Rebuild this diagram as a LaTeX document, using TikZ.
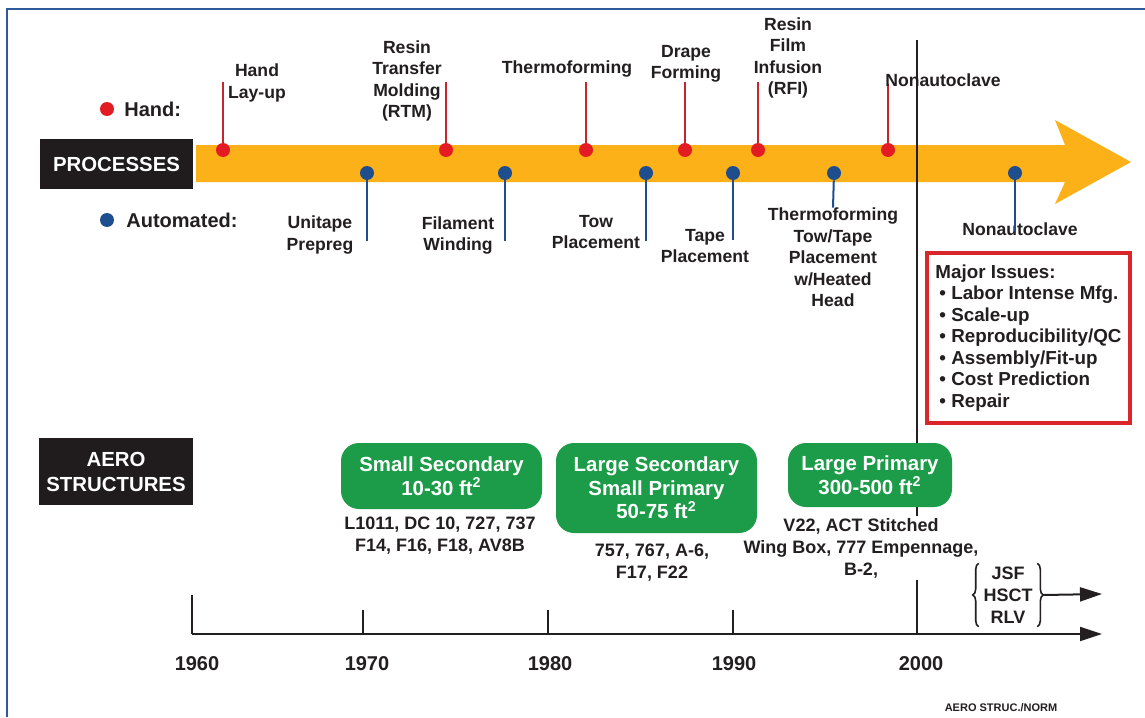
\documentclass[tikz,border=0pt]{standalone}
\usepackage{fontspec}
\setmainfont{Liberation Sans}
\usetikzlibrary{arrows.meta,decorations.pathreplacing}
\definecolor{frameblue}{HTML}{2E5A9A}
\definecolor{barorange}{HTML}{FBB117}
\definecolor{handred}{HTML}{E31B23}
\definecolor{stemred}{HTML}{C8252B}
\definecolor{autoblue}{HTML}{1F4E8F}
\definecolor{boxgreen}{HTML}{1C9C48}
\definecolor{ink}{HTML}{231F20}
\definecolor{issuered}{HTML}{D9262B}
\begin{document}
\begin{tikzpicture}[x=0.5pt,y=-0.5pt,
  lbl/.style={font=\fontsize{8.8}{10.75}\selectfont\bfseries, text=ink, align=center, inner sep=0pt},
  legendtxt/.style={font=\fontsize{10}{12}\selectfont\bfseries, text=ink, inner sep=0pt, anchor=west},
  hdot/.style={circle, fill=handred, minimum size=7pt, inner sep=0pt},
  adot/.style={circle, fill=autoblue, minimum size=7pt, inner sep=0pt},
  hstem/.style={draw=stemred, line width=1pt},
  astem/.style={draw=autoblue, line width=1pt},
  blackbox/.style={fill=ink!90!black, text=white, font=\fontsize{10.2}{12.5}\selectfont\bfseries, align=center, inner sep=0pt},
  greenbox/.style={fill=boxgreen, rounded corners=9pt, text=white, font=\fontsize{10.2}{11.75}\selectfont\bfseries, align=center, inner sep=0pt},
  note/.style={font=\fontsize{9}{11}\selectfont\bfseries, text=ink, align=center, inner sep=0pt},
  year/.style={font=\fontsize{10}{12}\selectfont\bfseries, text=ink, inner sep=0pt},
  axisline/.style={line width=1pt, draw=ink},
  bigtip/.style={-{Triangle[length=11pt,width=7pt]}},
]
\useasboundingbox (0,0) rectangle (1145,717);
\fill[white] (0,0) rectangle (1145,717);
% frame
\draw[frameblue, line width=1.3pt] (7,717) -- (7,9) -- (1145,9);

% orange process arrow
\fill[barorange] (196,145) -- (1065,145) -- (1055,120) -- (1131,162) -- (1055,204) -- (1065,182) -- (196,182) -- cycle;

% 2000 line
\coordinate (l2000top) at (917,40);
\coordinate (l2000) at (917,634);
\draw[axisline] (l2000top) -- (l2000);

% black label boxes
\node[blackbox, minimum width=76.5pt, minimum height=25pt] (proc) at (116.5,164) {PROCESSES};
\node[blackbox, minimum width=77pt, minimum height=33.5pt] (aero) at (116,471.5) {AERO\\STRUCTURES};

% legend
\node[hdot] (legh) at (107,109) {};
\node[legendtxt] (leghtxt) at (124,109) {Hand:};
\node[adot] (lega) at (107,220) {};
\node[legendtxt] (legatxt) at (126,220) {Automated:};

% hand processes
\coordinate (h1t) at (223,82);
\coordinate (h2t) at (446,82);
\coordinate (h3t) at (586,82);
\coordinate (h4t) at (685,82);
\coordinate (h5t) at (758,82);
\coordinate (h6t) at (888,84);
\node[hdot] (h1) at (223,150) {};
\node[hdot] (h2) at (446,150) {};
\node[hdot] (h3) at (586,150) {};
\node[hdot] (h4) at (685,150) {};
\node[hdot] (h5) at (758,150) {};
\node[hdot] (h6) at (888,150) {};
\draw[hstem] (h1) -- (h1t);
\draw[hstem] (h2) -- (h2t);
\draw[hstem] (h3) -- (h3t);
\draw[hstem] (h4) -- (h4t);
\draw[hstem] (h5) -- (h5t);
\draw[hstem] (h6) -- (h6t);
\node[lbl] (hl1) at (257,83) {Hand\\Lay-up};
\node[lbl] (hl2) at (407,81) {Resin\\Transfer\\Molding\\(RTM)};
\node[lbl] (hl3) at (567,69) {Thermoforming};
\node[lbl] (hl4) at (686,64) {Drape\\Forming};
\node[lbl] (hl5) at (788,58) {Resin\\Film\\Infusion\\(RFI)};
\node[lbl] (hl6) at (943,80) {Nonautoclave};

% automated processes
\node[adot] (a1) at (367,173) {};
\node[adot] (a2) at (505,173) {};
\node[adot] (a3) at (646,173) {};
\node[adot] (a4) at (733,173) {};
\node[adot] (a5) at (834,173) {};
\node[adot] (a6) at (1015,173) {};
\coordinate (a1b) at (367,241);
\coordinate (a2b) at (505,241);
\coordinate (a3b) at (646,241);
\coordinate (a4b) at (733,240);
\coordinate (a6b) at (1015,231);
\node[lbl] (al1) at (320,235) {Unitape\\Prepreg};
\node[lbl] (al2) at (458,235.5) {Filament\\Winding};
\node[lbl] (al3) at (596,232) {Tow\\Placement};
\node[lbl] (al4) at (705,246) {Tape\\Placement};
\node[lbl] (al5) at (833,257.5) {Thermoforming\\Tow/Tape\\Placement\\w/Heated\\Head};
\node[lbl] (al6) at (1020,229) {Nonautoclave};
\draw[astem] (a1) -- (a1b);
\draw[astem] (a2) -- (a2b);
\draw[astem] (a3) -- (a3b);
\draw[astem] (a4) -- (a4b);
\draw[astem] (a5) -- (al5.north);
\draw[astem] (a6) -- (a6b);

% major issues box
\node[draw=issuered, line width=1.8pt, minimum width=101.5pt, minimum height=85pt, align=left, inner sep=0pt,
      font=\fontsize{9.4}{10.75}\selectfont\bfseries, text=ink] (issues) at (1028.5,338)
  {Major Issues:\\
   \hspace{2pt}• Labor Intense Mfg.\\
   \hspace{2pt}• Scale-up\\
   \hspace{2pt}• Reproducibility/QC\\
   \hspace{2pt}• Assembly/Fit-up\\
   \hspace{2pt}• Cost Prediction\\
   \hspace{2pt}• Repair};

% aero structures
\node[note, fill=white, inner ysep=1pt] (e3) at (861,548) {V22, ACT Stitched\\Wing Box, 777 Empennage,\\B-2,};
\node[greenbox, minimum width=100.5pt, minimum height=33pt] (g1) at (441.5,476) {Small Secondary\\10-30 ft\textsuperscript{2}};
\node[greenbox, minimum width=100.5pt, minimum height=45pt] (g2) at (656.5,488) {Large Secondary\\Small Primary\\50-75 ft\textsuperscript{2}};
\node[greenbox, minimum width=82pt, minimum height=32pt] (g3) at (870,475) {Large Primary\\300-500 ft\textsuperscript{2}};
\node[note] (e1) at (440,536) {L1011, DC 10, 727, 737\\F14, F16, F18, AV8B};
\node[note] (e2) at (652,562.5) {757, 767, A-6,\\F17, F22};

% future group
\node[note, inner xsep=2.2pt, inner ysep=1.5pt] (fut) at (1008,595) {JSF\\HSCT\\RLV};
\draw[ink, line width=0.8pt, decorate, decoration={brace, amplitude=3pt}] (fut.south west) -- (fut.north west);
\draw[ink, line width=0.8pt, decorate, decoration={brace, amplitude=3pt}] (fut.north east) -- (fut.south east);
\coordinate (futtip) at ([xshift=3pt]fut.east);
\coordinate (futend) at (1102,594);
\draw[axisline, bigtip] (futtip) -- (futend);

% time axis
\coordinate (ax0) at (192,634);
\coordinate (axend) at (1102,634);
\draw[axisline, bigtip] (ax0) -- (axend);
\coordinate (t60) at (192,595);
\coordinate (t70a) at (363,610);
\coordinate (t70) at (363,634);
\coordinate (t80a) at (548,610);
\coordinate (t80) at (548,634);
\coordinate (t90a) at (733,610);
\coordinate (t90) at (733,634);
\draw[axisline] (t60) -- (ax0);
\draw[axisline] (t70a) -- (t70);
\draw[axisline] (t80a) -- (t80);
\draw[axisline] (t90a) -- (t90);
\node[year] (y60) at (197,664) {1960};
\node[year] (y70) at (367,664) {1970};
\node[year] (y80) at (550,664) {1980};
\node[year] (y90) at (734,664) {1990};
\node[year] (y00) at (921,664) {2000};

\node[font=\fontsize{5.5}{6.5}\selectfont\bfseries, text=ink, inner sep=0pt] (credit) at (1001,708) {AERO STRUC./NORM};
\end{tikzpicture}
\end{document}
